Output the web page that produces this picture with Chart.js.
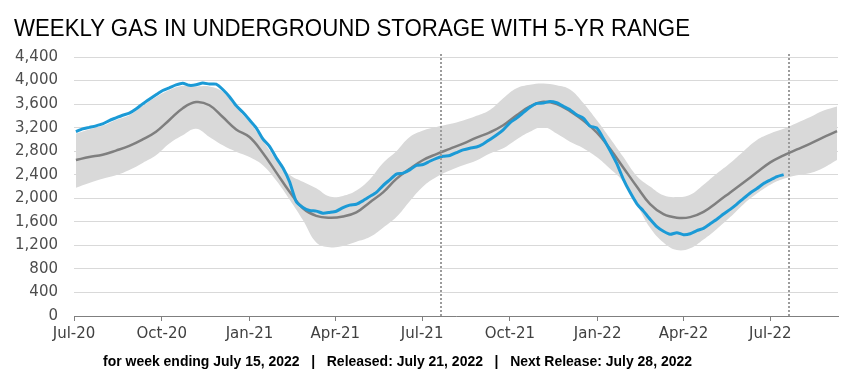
<!DOCTYPE html>
<html><head><meta charset="utf-8">
<script src="https://cdn.jsdelivr.net/npm/chart.js@4.4.1/dist/chart.umd.min.js"></script>
<style>
html,body{margin:0;padding:0;background:#fff;}
#wrap{position:relative;width:843px;height:379px;overflow:hidden;}
#title{position:absolute;left:14px;top:17px;font:23px "Liberation Sans",Arial,sans-serif;line-height:23px;color:#000;white-space:nowrap;transform-origin:0 0;}
#footer{position:absolute;left:103px;top:354px;font:bold 14px "Liberation Sans",Arial,sans-serif;line-height:14px;color:#000;white-space:pre;transform-origin:0 0;}
canvas{position:absolute;left:0;top:0;}
</style></head><body>
<div id="wrap">
<canvas id="c" width="843" height="379"></canvas>
<div id="title">WEEKLY GAS IN UNDERGROUND STORAGE WITH 5-YR RANGE</div>
<div id="footer">for week ending July 15, 2022   |   Released: July 21, 2022   |   Next Release: July 28, 2022</div>
</div>
<script>
// ---- data ----
const axisStart = '2020-07-01';
const axisEnd = '2022-09-10';
const tickDates = ['2020-07-01','2020-10-01','2021-01-01','2021-04-01','2021-07-01','2021-10-01','2022-01-01','2022-04-01','2022-07-01'];
const tickLabels = ['Jul-20','Oct-20','Jan-21','Apr-21','Jul-21','Oct-21','Jan-22','Apr-22','Jul-22'];
const yTickValues = [0,400,800,1200,1600,2000,2400,2800,3200,3600,4000,4400];

// weekly working gas in storage (Bcf), week ending 2020-07-03 ... 2022-07-15
const actualFirstWeek = '2020-07-03';
const actualStepDays = 7;
const actualStorage = [
  3133,3178,3204,3230,3263,3321,3366,3411,3446,3516,3604,3683,3759,
  3831,3877,3926,3955,3919,3927,3958,3940,3939,3848,3726,3574,3460,
  3330,3196,3009,2881,2689,2518,2281,1943,1845,1793,1782,1746,1760,
  1780,1841,1883,1898,1958,2029,2100,2215,2313,2411,2427,2482,2558,
  2574,2629,2678,2714,2727,2776,2822,2851,2871,2923,2999,3075,3163,
  3281,3362,3454,3546,3611,3618,3644,3623,3564,3505,3417,3362,3226,3195,
  3016,2810,2591,2323,2101,1911,1782,1643,1519,1440,1389,1415,1382,1397,
  1450,1490,1567,1643,1732,1812,1902,1999,2091,2165,2251,2311,2369,2401
];

// 5-year average and range, every other week from 2020-07-03
const rangeFirstWeek = '2020-07-03';
const rangeStepDays = 14;
const avg5yr = [
  2650,2700,2740,2810,2890,3000,3130,3330,3530,3635,3580,3380,3170,3040,
  2770,2440,2110,1830,1700,1670,1690,1760,1930,2100,2330,2500,2650,2750,
  2840,2930,3030,3120,3240,3410,3560,3640,3600,3480,3320,3120,2840,2520,
  2200,1900,1730,1670,1680,1770,1930,2100,2270,2440,2610,2730,2830,2930,3040,3140
];
const max5yr = [
  3100,3170,3230,3330,3410,3570,3720,3840,3910,3900,3900,3810,3540,3290,
  2980,2650,2400,2280,2170,2030,2040,2130,2320,2600,2800,3040,3150,3210,
  3260,3320,3400,3500,3700,3870,3930,3950,3920,3850,3620,3330,3020,2700,
  2380,2200,2050,2020,2060,2230,2420,2600,2800,2990,3100,3180,3280,3380,3490,3560
];
const min5yr = [
  2180,2260,2330,2390,2480,2600,2730,2930,3070,3180,3040,2900,2790,2700,
  2560,2300,1980,1630,1250,1170,1190,1260,1340,1500,1680,1950,2200,2360,
  2470,2560,2640,2760,2850,3000,3130,3210,3100,2960,2850,2700,2500,2280,
  1900,1500,1250,1120,1150,1300,1480,1680,1900,2080,2230,2330,2390,2430,2520,2650
];
const markerDates = ['2021-07-21','2022-07-21'];

// ---- helpers ----
const DAY = 86400000;
const dayOf = s => (Date.parse(s) - Date.parse(axisStart)) / DAY;
const series = (first, step, vals) => vals.map((v, i) => ({x: dayOf(first) + step * i, y: v}));
const tickDays = tickDates.map(dayOf);

const markerPlugin = {
  id: 'markers',
  afterDatasetsDraw(chart) {
    const {ctx, chartArea, scales} = chart;
    ctx.save();
    ctx.strokeStyle = '#9c9c9c';
    ctx.lineWidth = 2;
    ctx.setLineDash([2, 2]);
    markerDates.forEach(d => {
      const px = Math.round(scales.x.getPixelForValue(dayOf(d)));
      ctx.beginPath();
      ctx.moveTo(px, chartArea.top - 3);
      ctx.lineTo(px, chartArea.bottom);
      ctx.stroke();
    });
    ctx.restore();
  }
};

const axisFont = {family: 'DejaVu Sans', size: 15};

new Chart(document.getElementById('c'), {
  type: 'line',
  data: {
    datasets: [
      {label: 'Storage', data: series(actualFirstWeek, actualStepDays, actualStorage),
       borderColor: '#1b9ad6', borderWidth: 3, pointRadius: 0, tension: 0.2, fill: false},
      {label: '5-yr avg', data: series(rangeFirstWeek, rangeStepDays, avg5yr),
       borderColor: '#7f7f7f', borderWidth: 2.5, pointRadius: 0, tension: 0.4, fill: false},
      {label: '5-yr max', data: series(rangeFirstWeek, rangeStepDays, max5yr),
       borderColor: 'rgba(0,0,0,0)', borderWidth: 0, pointRadius: 0, tension: 0.4,
       backgroundColor: '#d9d9d9', fill: '+1'},
      {label: '5-yr min', data: series(rangeFirstWeek, rangeStepDays, min5yr),
       borderColor: 'rgba(0,0,0,0)', borderWidth: 0, pointRadius: 0, tension: 0.4, fill: false}
    ]
  },
  options: {
    responsive: false,
    animation: false,
    devicePixelRatio: 1,
    layout: {padding: {top: 57, right: 5, left: 0, bottom: 0}},
    plugins: {legend: {display: false}, tooltip: {enabled: false}, title: {display: false}},
    scales: {
      x: {
        type: 'linear', min: 0, max: dayOf(axisEnd),
        afterBuildTicks: s => { s.ticks = tickDays.map(v => ({value: v})); },
        afterFit: s => { s.height = 63; },
        ticks: {autoSkip: false, maxRotation: 0, padding: 4, color: '#404040', font: axisFont,
                callback: (v, i) => tickLabels[i]},
        grid: {drawOnChartArea: false, drawTicks: true, tickLength: 5, color: '#7f7f7f', tickWidth: 1},
        border: {display: true, color: '#7f7f7f', width: 1}
      },
      y: {
        min: 0, max: 4400,
        afterBuildTicks: s => { s.ticks = yTickValues.map(v => ({value: v})); },
        afterFit: s => { s.width = 74; },
        ticks: {padding: 16, color: '#4d4d4d', font: axisFont,
                callback: v => v.toLocaleString('en-US')},
        grid: {color: '#d9d9d9', drawTicks: false, lineWidth: 1},
        border: {display: false}
      }
    }
  },
  plugins: [markerPlugin]
});

function fitWidth(id, target) {
  const el = document.getElementById(id);
  const w = el.getBoundingClientRect().width;
  if (w > 0) el.style.transform = 'scaleX(' + (target / w) + ')';
}
fitWidth('title', 676);
fitWidth('footer', 589);
</script>
</body></html>
